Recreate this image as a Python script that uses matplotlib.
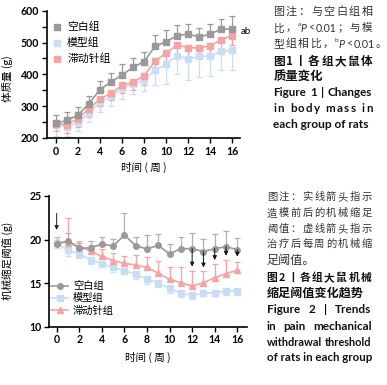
import matplotlib
matplotlib.use("Agg")
import matplotlib.pyplot as plt
from matplotlib.ticker import MultipleLocator
import numpy as np

# ---------------- data ----------------
weeks = list(range(17))
groups = ["空白组", "模型组", "滞动针组"]

bw_blank = [247, 255, 272, 308, 352, 376, 398, 422, 440, 488, 503, 521, 527, 517, 527, 542, 542]
bw_blank_sd = [24, 28, 24, 23, 27, 28, 35, 29, 30, 35, 35, 35, 31, 30, 32, 32, 40]
bw_model = [242, 235, 249, 279, 312, 331, 357, 369, 383, 413, 432, 459, 448, 457, 457, 472, 475]
bw_model_sd = [35, 30, 28, 29, 30, 31, 34, 32, 34, 48, 63, 58, 65, 65, 61, 57, 60]
bw_acu = [245, 242, 261, 292, 322, 341, 365, 375, 396, 441, 467, 492, 484, 483, 490, 509, 522]
bw_acu_sd = [22, 26, 25, 25, 22, 22, 25, 25, 28, 30, 30, 30, 30, 30, 30, 30, 30]

pwt_blank = [19.45, 19.87, 19.03, 19.03, 19.49, 19.26, 20.52, 19.30, 18.92, 19.34, 18.34, 18.96, 18.96, 18.61, 18.96, 19.18, 18.84]
pwt_blank_sd = [0.5, 0.83, 0.6, 0.8, 0.77, 0.75, 2.5, 0.95, 1.6, 1.3, 1.15, 1.3, 1.75, 1.5, 1.65, 1.75, 1.35]
pwt_model = [19.57, 18.76, 18.38, 17.65, 17.23, 16.81, 16.43, 16.01, 15.47, 15.01, 14.40, 13.83, 13.60, 13.83, 13.90, 14.10, 14.10]
pwt_model_sd = [0.5, 0.6, 0.5, 0.5, 0.4, 0.5, 0.4, 0.5, 0.6, 0.5, 0.5, 0.4, 0.4, 0.3, 0.4, 0.5, 0.5]
pwt_acu = [19.72, 19.65, 19.20, 18.69, 18.07, 17.58, 17.27, 17.08, 16.81, 16.13, 15.44, 15.05, 14.67, 15.05, 15.63, 16.09, 16.47]
pwt_acu_sd = [0.6, 2.8, 0.6, 0.7, 0.9, 0.9, 0.9, 1.1, 1.2, 1.45, 1.4, 1.75, 1.75, 1.3, 1.55, 1.55, 1.0]

solid_arrow_week = [0]
solid_arrow_from = [23.0]
solid_arrow_to = [21.1]
dashed_arrow_weeks = [12, 13, 14, 15, 16]
dashed_arrow_to = [16.9, 16.8, 17.65, 18.15, 18.05]

# ---------------- style ----------------
W, H = 387, 385
C_GRAY = "#999999"
C_BLUE = "#c8ddf6"
C_PINK = "#f4a4a4"
CJK = ["Noto Sans CJK SC", "DejaVu Sans"]
NUMF = ["Lato", "DejaVu Sans"]

fig = plt.figure(figsize=(W / 100, H / 100), dpi=100)


def ax_rect(l, t, r, b):
    return [l / W, 1 - b / H, (r - l) / W, (b - t) / H]


def style_axes(ax):
    for s in ["top", "right"]:
        ax.spines[s].set_visible(False)
    for s in ["left", "bottom"]:
        ax.spines[s].set_linewidth(1.2)
    ax.tick_params(which="both", direction="out", length=3.5, width=1.0,
                   labelsize=7.6, pad=2)
    for lab in ax.get_xticklabels() + ax.get_yticklabels():
        lab.set_fontfamily(NUMF)
        lab.set_fontweight("bold")


# ---------------- chart 1 ----------------
ax1 = fig.add_axes(ax_rect(47, 10.7, 240, 138))
ax1.set_xlim(-0.8, 16.7)
ax1.set_ylim(200, 600)
zeros = np.zeros(len(weeks))
ebkw = dict(fmt="none", elinewidth=0.9, capsize=2.2, capthick=0.9)
ax1.errorbar(weeks, bw_model, yerr=[bw_model_sd, zeros], ecolor=C_BLUE, zorder=1, **ebkw)
ax1.errorbar(weeks, bw_acu, yerr=[bw_acu_sd, zeros], ecolor=C_PINK, zorder=1, **ebkw)
ax1.errorbar(weeks, bw_blank, yerr=[zeros, bw_blank_sd], ecolor=C_GRAY, zorder=1, **ebkw)
ax1.plot(weeks, bw_model, "-s", color=C_BLUE, lw=1.2, ms=4, zorder=2)
ax1.plot(weeks, bw_acu, "-s", color=C_PINK, lw=1.2, ms=4, zorder=3)
ax1.plot(weeks, bw_blank, "-s", color=C_GRAY, lw=1.2, ms=4, zorder=4)
h1 = [ax1.scatter([], [], marker="s", color=c, s=16) for c in (C_GRAY, C_BLUE, C_PINK)]
leg1 = ax1.legend(h1, groups, loc="upper left", bbox_to_anchor=(0.02, 0.93),
                  frameon=False, prop={"family": CJK, "size": 7.8},
                  handlelength=0.8, handletextpad=0.5, labelspacing=0.48,
                  borderaxespad=0.0, borderpad=0.2)
ax1.set_xticks(range(0, 17, 2))
ax1.yaxis.set_major_locator(MultipleLocator(100))
ax1.yaxis.set_minor_locator(MultipleLocator(50))
ax1.set_xlabel("时间 ( 周 )", family=CJK, fontsize=7.6, labelpad=3.5)
ax1.set_ylabel("体质量 (g)", family=CJK, fontsize=7.6)
ax1.yaxis.set_label_coords(-0.175, 0.47)
ax1.text(weeks[-1] + 0.8, bw_blank[-1] - 8, "ab", fontsize=7, family=NUMF,
         va="center", ha="left", clip_on=False)
style_axes(ax1)

# ---------------- chart 2 ----------------
ax2 = fig.add_axes(ax_rect(49.3, 196, 246.7, 326.7))
ax2.set_xlim(-0.65, 16.83)
ax2.set_ylim(10, 25)
ax2.errorbar(weeks, pwt_model, yerr=[pwt_model_sd, zeros], ecolor=C_BLUE, zorder=1, **ebkw)
ax2.errorbar(weeks, pwt_acu, yerr=[zeros, pwt_acu_sd], ecolor=C_PINK, zorder=1, **ebkw)
ax2.errorbar(weeks, pwt_blank, yerr=[zeros, pwt_blank_sd], ecolor="#b0b0b0", zorder=1, **ebkw)
l_m, = ax2.plot(weeks, pwt_model, "-s", color=C_BLUE, lw=1.2, ms=4, zorder=2)
l_a, = ax2.plot(weeks, pwt_acu, "-^", color=C_PINK, lw=1.2, ms=4, zorder=3)
l_b, = ax2.plot(weeks, pwt_blank, "-o", color=C_GRAY, lw=1.2, ms=4, zorder=4)
# arrows
for w, a, b in zip(solid_arrow_week, solid_arrow_from, solid_arrow_to):
    ax2.annotate("", xy=(w, b), xytext=(w, a),
                 arrowprops=dict(arrowstyle="-|>", color="#222222", lw=0.7,
                                 mutation_scale=6, shrinkA=0, shrinkB=0), zorder=6)
for w, b in zip(dashed_arrow_weeks, dashed_arrow_to):
    a = pwt_blank[w]
    ax2.annotate("", xy=(w, b), xytext=(w, a),
                 arrowprops=dict(arrowstyle="-|>", color="#111111", lw=0.7,
                                 mutation_scale=6, shrinkA=0, shrinkB=0), zorder=6)
leg2 = ax2.legend([l_b, l_m, l_a], groups, loc="upper left", bbox_to_anchor=(0.0, 0.365),
                  frameon=False, prop={"family": CJK, "size": 7.4},
                  handlelength=1.6, handletextpad=0.5, labelspacing=0.2,
                  borderaxespad=0.0, borderpad=0.2)
ax2.set_xticks(range(0, 17, 2))
ax2.set_yticks([10, 15, 20, 25])
ax2.set_xlabel("时间 ( 周 )", family=CJK, fontsize=7.6, labelpad=5)
ax2.set_ylabel("机械缩足阈值 (g)", family=CJK, fontsize=7.6)
ax2.yaxis.set_label_coords(-0.185, 0.5)
style_axes(ax2)

# ---------------- captions ----------------
renderer = fig.canvas.get_renderer()


def piece(s, size, bold=False, fam=None, italic=False, dy=0, color="#222222"):
    return (s, dict(fontsize=size, fontweight="bold" if bold else "normal",
                    family=fam or CJK, style="italic" if italic else "normal",
                    color=color), dy)


def draw_line(grps, x0, x1, yc, justify=True, mingap=1.5):
    made = []
    for g in grps:
        items = []
        for s, kw, dy in g:
            t = fig.text(0, 0, s, va="center_baseline", ha="left", **kw)
            items.append([t, kw["fontsize"], dy, 0.0])
        made.append(items)
    n = len(grps)

    def measure():
        ws = []
        for items in made:
            gw = 0
            for it in items:
                it[3] = it[0].get_window_extent(renderer).width
                gw += it[3]
            ws.append(gw)
        return ws

    widths = measure()
    avail = x1 - x0
    g_min = (n - 1) * (mingap if justify else 0)
    if sum(widths) + g_min > avail:
        sc = (avail - g_min) / sum(widths)
        for items in made:
            for it in items:
                it[1] *= sc
                it[0].set_fontsize(it[1])
        widths = measure()
    gap = (avail - sum(widths)) / (n - 1) if (justify and n > 1) else 0
    x = x0
    for items, gw in zip(made, widths):
        xx = x
        for t, fs, dy, wdt in items:
            t.set_position((xx / W, 1 - (yc - dy) / H))
            xx += wdt
        x += gw + gap


def chars(text, size, bold=False, fam=None, color="#222222"):
    return [[piece(c, size, bold, fam, color=color)] for c in text]


def words(text, size, bold=False, fam=None, color="#222222"):
    return [[piece(w_, size, bold, fam, color=color)] for w_ in text.split()]


FS = 8.9
EN = ["Lato", "DejaVu Sans"]
TXT = "#333333"
BLK = "#111111"
L, R = 273.3, 372.3
draw_line(chars("图注：与空白组相", FS, color=TXT), L, R, 11)
draw_line([[piece("比", FS, color=TXT)], [piece("，", FS, color=TXT)],
           [piece("a", FS * 0.6, fam=EN, color=TXT, dy=3.5), piece("P", FS, fam=EN, italic=True, color=TXT)],
           [piece("<", FS, fam=EN, color=TXT)], [piece("0.01", FS, fam=EN, color=TXT)],
           [piece("；", FS, color=TXT)], [piece("与", FS, color=TXT)], [piece("模", FS, color=TXT)]],
          L, R, 27.3)
draw_line([[piece(c, FS, color=TXT)] for c in "型组相比，"] +
          [[piece("b", FS * 0.6, fam=EN, color=TXT, dy=3.5), piece("P", FS, fam=EN, italic=True, color=TXT)],
           [piece("<", FS, fam=EN, color=TXT)], [piece("0.01", FS, fam=EN, color=TXT), piece("。", FS, color=TXT)]],
          L, 386, 43)
draw_line([[piece(c, FS, bold=True, color=BLK)] for c in ["图", "1", "丨", "各", "组", "大", "鼠", "体"]],
          L, R, 60)
draw_line([[piece("质量变化", FS, bold=True, color=BLK)]], L, R, 74.5, justify=False)
draw_line(words("Figure 1 | Changes", 8.9, bold=True, fam=EN, color=BLK), L, R, 91, mingap=4)
draw_line([[piece(c, 8.6, bold=True, fam=EN, color=BLK)] for c in "in body mass in"], L, R, 107)
draw_line([[piece("each group of rats", 8.6, bold=True, fam=EN, color=BLK)]], L, R, 123, justify=False)

FS2 = 8.7
L2, R2 = 266.7, 371.7
draw_line(chars("图注：实线箭头指示", FS2, color=TXT), L2, R2, 195.7)
draw_line(chars("造模前后的机械缩足", FS2, color=TXT), L2, R2, 212.3)
draw_line(chars("阈值：虚线箭头指示", FS2, color=TXT), L2, R2, 227.7)
draw_line(chars("治疗后每周的机械缩", FS2, color=TXT), L2, R2, 243.3)
draw_line([[piece("足阈值。", FS2, color=TXT)]], L2, R2, 259.3, justify=False)
draw_line([[piece(c, FS2, bold=True, color=BLK)] for c in ["图", "2", "丨", "各", "组", "大", "鼠", "机", "械"]],
          L2, R2, 276.7)
draw_line([[piece("缩足阈值变化趋势", FS2, bold=True, color=BLK)]], L2, R2, 291.7, justify=False)
draw_line(words("Figure 2 | Trends", 8.5, bold=True, fam=EN, color=BLK), L2, R2, 308.3)
draw_line(words("in pain mechanical", 8.5, bold=True, fam=EN, color=BLK), L2, R2, 325, mingap=3)
draw_line(words("withdrawal threshold", 8.5, bold=True, fam=EN, color=BLK), L2, R2, 341.7, mingap=3)
draw_line([[piece("of rats in each group", 8.5, bold=True, fam=EN, color=BLK)]], L2, R2, 356.7, justify=False)

fig.savefig("out.png", dpi=100)
